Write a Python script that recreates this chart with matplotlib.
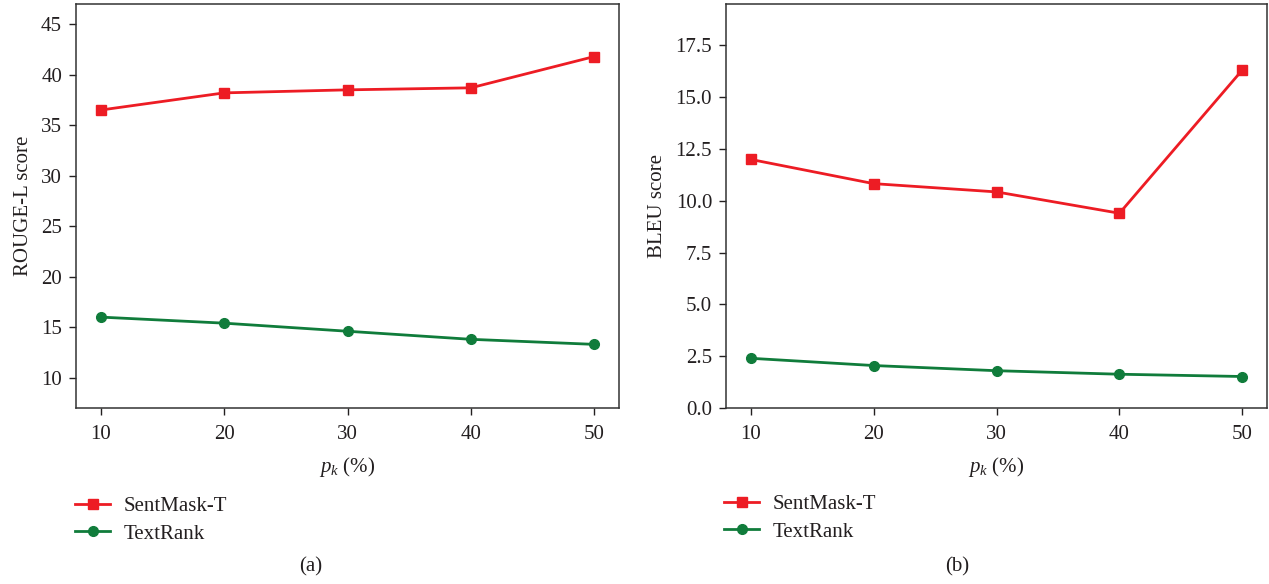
import matplotlib
matplotlib.use("Agg")
import matplotlib.pyplot as plt

plt.rcParams["font.family"] = "Liberation Serif"
plt.rcParams["mathtext.fontset"] = "custom"
plt.rcParams["mathtext.rm"] = "Liberation Serif"
plt.rcParams["mathtext.it"] = "Liberation Serif:italic"

# data
pk = [10, 20, 30, 40, 50]
rouge_sentmask = [36.5, 38.2, 38.5, 38.7, 41.8]
rouge_textrank = [16.0, 15.4, 14.6, 13.8, 13.3]
bleu_sentmask = [12.0, 10.83, 10.43, 9.40, 16.32]
bleu_textrank = [2.40, 2.05, 1.80, 1.63, 1.52]

series_names = ["SentMask-T", "TextRank"]
red = "#ed1c24"
green = "#107c3b"
ink = "#231f20"

fig = plt.figure(figsize=(12.69, 5.84), dpi=100)
ax1 = fig.add_axes([76 / 1269, 1 - 408 / 584, 543 / 1269, 404 / 584])
ax2 = fig.add_axes([726 / 1269, 1 - 408 / 584, 541 / 1269, 404 / 584])


def style_axes(ax, ylabel, yticks, ylim, fmt):
    ax.set_xlim(8, 52)
    ax.set_ylim(*ylim)
    ax.set_xticks(pk)
    ax.set_yticks(yticks)
    ax.set_yticklabels([fmt.format(v) for v in yticks])
    ax.tick_params(direction="out", length=5, width=1, labelsize=15,
                   colors=ink, pad=5)
    ax.tick_params(axis="x", pad=7)
    for s in ax.spines.values():
        s.set_color("#333333")
        s.set_linewidth(1.1)
    ax.set_ylabel(ylabel, fontsize=15, color=ink, labelpad=6)
    ax.set_xlabel("$p_k$ (%)", fontsize=15, color=ink, labelpad=8)


l1, = ax1.plot(pk, rouge_sentmask, color=red, lw=2, marker="s", ms=7)
l2, = ax1.plot(pk, rouge_textrank, color=green, lw=2, marker="o", ms=7)
style_axes(ax1, "ROUGE-L score", [10, 15, 20, 25, 30, 35, 40, 45], (7, 47), "{:d}")

r1, = ax2.plot(pk, bleu_sentmask, color=red, lw=2, marker="s", ms=7)
r2, = ax2.plot(pk, bleu_textrank, color=green, lw=2, marker="o", ms=7)
style_axes(ax2, "BLEU score", [0, 2.5, 5, 7.5, 10, 12.5, 15, 17.5], (0, 19.5), "{:.1f}")

for handles, x0, yc in [((l1, l2), 75 / 1269, 520), ((r1, r2), 724 / 1269, 518)]:
    fig.legend(handles, series_names, loc="center left",
               bbox_to_anchor=(x0, 1 - yc / 584), frameon=False,
               fontsize=15, handlelength=1.7, handletextpad=0.65,
               labelspacing=0.4, borderpad=0, borderaxespad=0,
               labelcolor=ink)

fig.text(311 / 1269, 1 - 567 / 584, "(a)", ha="center", va="center",
         fontsize=15, color=ink)
fig.text(957 / 1269, 1 - 567 / 584, "(b)", ha="center", va="center",
         fontsize=15, color=ink)

fig.savefig("out.png", dpi=100)
